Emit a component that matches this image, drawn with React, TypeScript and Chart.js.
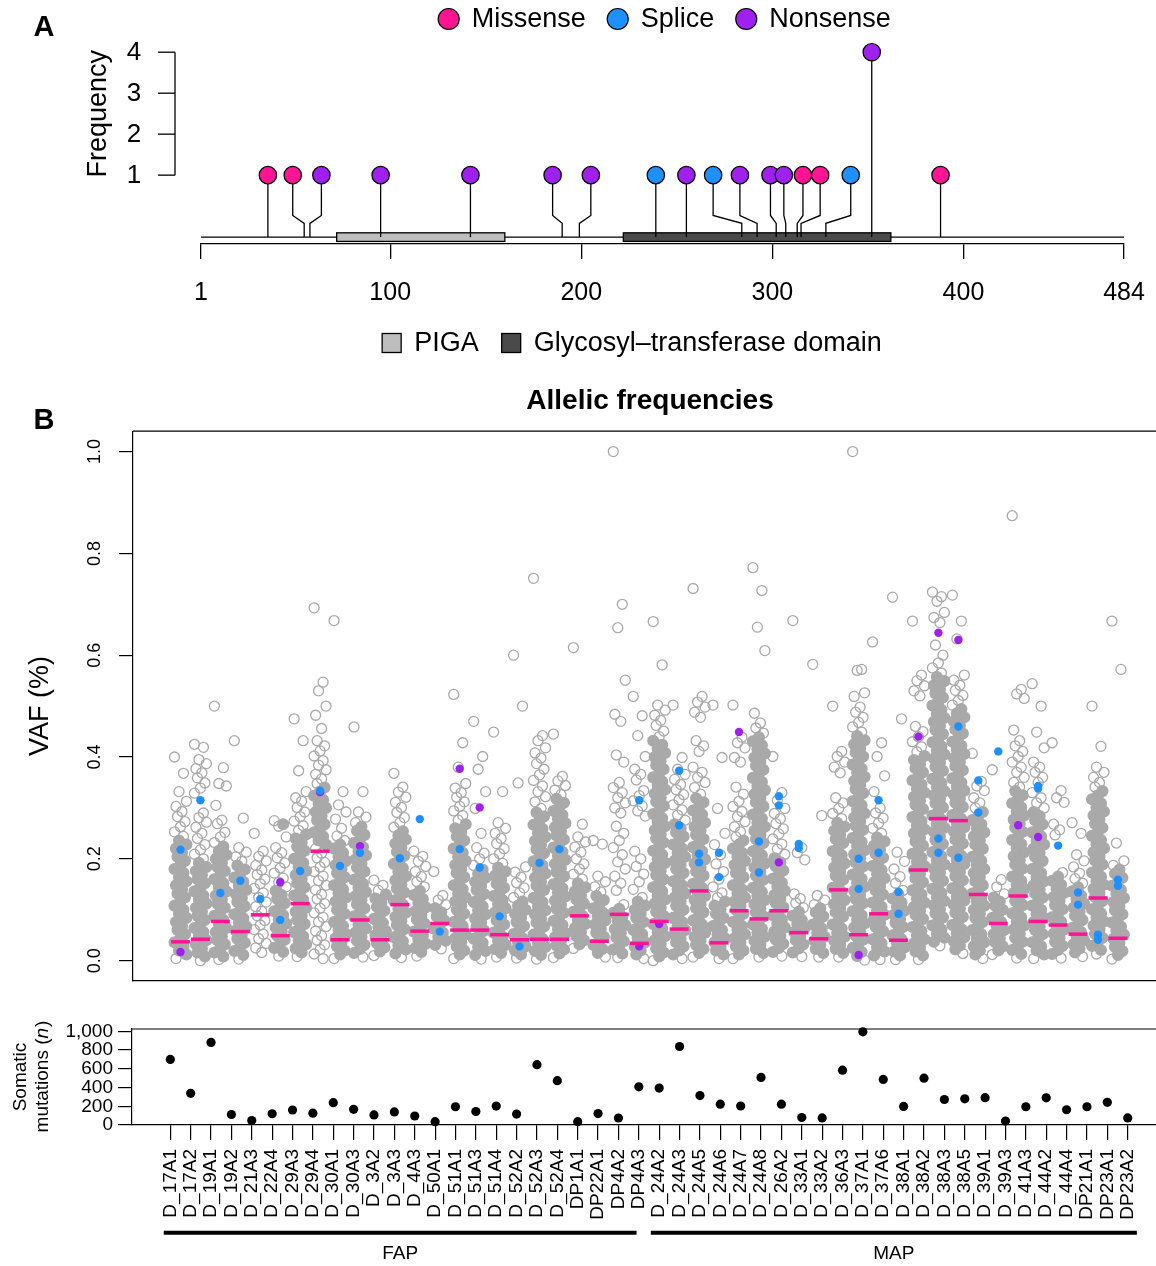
import React, { useEffect, useRef } from 'react';
import { Chart, registerables } from 'chart.js';

Chart.register(...registerables);

const FONT = "'Liberation Sans', Arial, Helvetica, sans-serif";
Chart.defaults.font.family = FONT;
Chart.defaults.color = '#000';

// ---------------- Panel A : lollipop plot ----------------
const proteinRange = [1, 484];
const axisTicksA = [1, 100, 200, 300, 400, 484];
const freqTicks = [1, 2, 3, 4];
const mutationTypes = ['Missense', 'Splice', 'Nonsense'];
const mutationColors = ['#FF1493', '#1E90FF', '#A020F0'];
// amino-acid position of each mutation
const mutationPositions = [36, 55, 58, 95, 142, 190, 199, 239, 255, 284, 292, 302, 307, 313, 315, 328, 352, 388];
// position of the lollipop head (repelled so heads do not overlap)
const mutationHeadPositions = [36, 49, 64, 95, 142, 185, 205, 239, 255, 269, 283, 299, 306, 316, 325, 341, 352, 388];
const mutationKinds = ['Missense', 'Missense', 'Nonsense', 'Nonsense', 'Nonsense', 'Nonsense', 'Nonsense', 'Splice', 'Nonsense', 'Splice', 'Nonsense', 'Nonsense', 'Nonsense', 'Missense', 'Missense', 'Splice', 'Nonsense', 'Missense'];
const mutationFrequencies = [1, 1, 1, 1, 1, 1, 1, 1, 1, 1, 1, 1, 1, 1, 1, 1, 4, 1];
const domainNames = ['PIGA', 'Glycosyl\u2013transferase domain'];
const domainStarts = [72, 222];
const domainEnds = [160, 362];
const domainColors = ['#BEBEBE', '#4A4A4A'];

// layout constants of panel A (in y-scale units)
const BACKBONE_Y = -0.512;
const STEM_LOW_Y = -0.176;
const STEM_HIGH_Y = 0.016;
const DOMAIN_HALF = 0.105;

// ---------------- Panel B / C : samples ----------------
const samples = ['D_17A1', 'D_17A2', 'D_19A1', 'D_19A2', 'D_21A3', 'D_22A4', 'D_29A3', 'D_29A4', 'D_30A1', 'D_30A3', 'D_3A2', 'D_3A3', 'D_4A3', 'D_50A1', 'D_51A1', 'D_51A3', 'D_51A4', 'D_52A2', 'D_52A3', 'D_52A4', 'DP1A1', 'DP22A1', 'DP4A2', 'DP4A3', 'D_24A2', 'D_24A3', 'D_24A5', 'D_24A6', 'D_24A7', 'D_24A8', 'D_26A2', 'D_33A1', 'D_33A2', 'D_36A3', 'D_37A1', 'D_37A6', 'D_38A1', 'D_38A2', 'D_38A3', 'D_38A5', 'D_39A1', 'D_39A3', 'D_41A3', 'D_44A2', 'D_44A4', 'DP21A1', 'DP23A1', 'DP23A2'];
const groupNames = ['FAP', 'MAP'];
const groupLineStart = [-0.32, 23.59];
const groupLineEnd = [22.89, 47.45];

const vafTicks = [0, 0.2, 0.4, 0.6, 0.8, 1.0];
// VAF of every somatic mutation, per sample, in permille (VAF x 1000)
const vafPermille: number[][] = [
  [400, 368, 332, 313, 303, 293, 283, 273, 263, 253, 244, 236, 228, 220, 212, 204, 196, 188, 180, 172, 164, 156, 148, 140, 132, 124, 116, 108, 100, 92, 84, 76, 68, 60, 52, 44, 36, 28, 20, 12, 4],
  [425, 419, 395, 387, 377, 369, 359, 349, 339, 329, 290, 281, 272, 262, 250, 240, 228, 218, 209, 200, 192, 184, 176, 168, 160, 152, 144, 136, 128, 120, 112, 104, 96, 88, 80, 72, 64, 56, 48, 40, 32, 24, 16, 8, 0],
  [500, 379, 348, 343, 305, 276, 269, 252, 243, 232, 224, 216, 208, 200, 192, 184, 176, 168, 160, 152, 144, 136, 128, 120, 112, 104, 96, 88, 80, 72, 64, 56, 48, 40, 32, 24, 16, 8, 2],
  [432, 280, 222, 213, 204, 195, 187, 179, 171, 163, 155, 147, 139, 131, 123, 115, 107, 99, 91, 83, 75, 67, 59, 51, 43, 35, 27, 19, 11, 3],
  [250, 215, 205, 196, 187, 178, 169, 160, 151, 142, 133, 124, 115, 106, 97, 88, 79, 70, 61, 52, 43, 34, 25, 16],
  [275, 268, 264, 243, 222, 212, 202, 192, 182, 172, 162, 154, 145, 137, 129, 121, 113, 105, 97, 89, 81, 73, 65, 57, 49, 41, 33, 25, 17, 9],
  [475, 432, 373, 332, 320, 313, 301, 292, 283, 274, 265, 256, 248, 240, 232, 224, 216, 208, 200, 192, 184, 176, 168, 160, 152, 144, 136, 128, 120, 112, 104, 96, 88, 80, 72, 64, 56, 48, 40, 32, 24, 16, 8],
  [693, 547, 530, 500, 482, 456, 432, 422, 412, 402, 393, 384, 375, 366, 357, 348, 340, 332, 324, 316, 308, 300, 292, 284, 276, 268, 260, 252, 244, 236, 228, 220, 211, 202, 193, 184, 175, 166, 157, 148, 139, 130, 121, 112, 103, 94, 85, 76, 67, 58, 49, 40, 31, 22, 13, 4],
  [668, 332, 306, 292, 278, 260, 245, 236, 228, 220, 212, 204, 196, 188, 180, 172, 164, 156, 148, 140, 132, 124, 116, 108, 100, 92, 84, 76, 68, 60, 52, 44, 36, 28, 20, 12, 4],
  [459, 332, 292, 282, 271, 263, 255, 247, 239, 231, 223, 215, 207, 199, 191, 183, 175, 167, 159, 151, 143, 135, 127, 119, 111, 103, 95, 87, 79, 71, 63, 55, 47, 39, 31, 23, 15, 7],
  [158, 148, 138, 130, 122, 114, 106, 98, 90, 82, 74, 66, 58, 50, 42, 34, 26, 18, 10],
  [368, 341, 331, 321, 311, 301, 291, 281, 271, 262, 254, 246, 238, 230, 222, 214, 206, 198, 190, 182, 174, 166, 158, 150, 142, 134, 126, 118, 110, 102, 94, 86, 78, 70, 62, 54, 46, 38, 30, 22, 14, 6],
  [215, 205, 195, 185, 175, 165, 155, 145, 137, 129, 121, 113, 105, 97, 89, 81, 73, 65, 57, 49, 41, 33, 25, 17, 9],
  [175, 128, 119, 110, 103, 95, 87, 79, 71, 63, 55, 47, 39, 31, 23],
  [523, 428, 380, 348, 339, 330, 321, 312, 303, 294, 285, 276, 268, 260, 252, 244, 236, 228, 220, 212, 204, 196, 188, 180, 172, 164, 156, 148, 140, 132, 124, 116, 108, 100, 92, 84, 76, 68, 60, 52, 44, 36, 28, 20, 12, 4],
  [470, 401, 376, 332, 299, 250, 222, 211, 200, 187, 179, 171, 163, 155, 147, 139, 131, 123, 115, 107, 99, 91, 83, 75, 67, 59, 51, 43, 35, 27, 19, 11, 3],
  [449, 332, 271, 260, 250, 240, 230, 220, 210, 200, 191, 183, 175, 167, 159, 151, 143, 135, 127, 119, 111, 103, 95, 87, 79, 71, 63, 55, 47, 39, 31, 23, 15, 7],
  [600, 500, 349, 184, 174, 164, 153, 143, 133, 124, 116, 108, 100, 92, 84, 76, 68, 60, 52, 44, 36, 28, 20, 12, 5],
  [751, 442, 432, 418, 408, 398, 387, 376, 365, 354, 343, 332, 322, 312, 299, 291, 283, 275, 267, 259, 251, 243, 235, 227, 219, 211, 203, 195, 187, 179, 171, 163, 155, 147, 139, 131, 123, 115, 107, 99, 91, 83, 75, 67, 59, 51, 43, 35, 27, 19, 11, 3],
  [445, 362, 353, 344, 335, 326, 318, 310, 302, 294, 286, 278, 270, 262, 254, 246, 238, 230, 222, 214, 206, 198, 190, 182, 174, 166, 158, 150, 142, 134, 126, 118, 110, 102, 94, 86, 78, 70, 62, 54, 46, 38, 30, 22, 14, 6],
  [615, 268, 243, 233, 223, 213, 200, 190, 180, 170, 160, 152, 144, 136, 128, 120, 112, 104, 96, 88, 80, 72, 64, 56, 48, 40, 32, 24],
  [236, 229, 166, 155, 145, 135, 127, 119, 111, 103, 95, 87, 79, 71, 63, 55, 47, 39, 31, 23, 15, 7],
  [1000, 700, 654, 551, 484, 470, 404, 390, 350, 340, 330, 320, 310, 300, 290, 264, 250, 236, 222, 208, 194, 180, 166, 152, 138, 110, 102, 94, 86, 78, 70, 62, 54, 46, 38, 30, 22, 14, 6],
  [519, 481, 442, 401, 376, 366, 355, 334, 324, 314, 304, 294, 284, 215, 200, 185, 170, 155, 140, 124, 116, 108, 100, 92, 84, 76, 68, 60, 52, 44, 36, 28, 20, 12, 4],
  [666, 581, 502, 492, 482, 472, 462, 451, 440, 432, 424, 416, 408, 400, 392, 384, 376, 368, 360, 352, 344, 336, 328, 320, 312, 304, 296, 288, 280, 272, 264, 256, 248, 240, 232, 224, 216, 208, 200, 192, 184, 176, 168, 160, 152, 144, 136, 128, 120, 112, 104, 96, 88, 80, 72, 64, 56, 48, 40, 32, 24, 16, 8, 0],
  [502, 399, 376, 366, 356, 346, 336, 326, 316, 306, 296, 286, 276, 268, 260, 252, 244, 236, 228, 220, 212, 204, 196, 188, 180, 172, 164, 156, 148, 140, 132, 124, 116, 108, 100, 92, 84, 76, 68, 60, 52, 44, 36, 28, 20, 12, 4],
  [731, 519, 508, 498, 488, 478, 432, 422, 411, 380, 370, 360, 350, 340, 327, 319, 311, 303, 295, 287, 279, 271, 263, 255, 247, 239, 231, 223, 215, 207, 199, 191, 183, 175, 167, 159, 151, 143, 135, 127, 119, 111, 103, 95, 87, 79, 71, 63, 55, 47, 39, 31, 23, 15, 7],
  [502, 399, 299, 250, 228, 208, 190, 175, 160, 145, 133, 124, 116, 108, 100, 92, 84, 76, 68, 60, 52, 44, 36, 28, 20, 12, 4],
  [502, 439, 428, 418, 399, 390, 341, 327, 313, 303, 293, 283, 273, 263, 253, 243, 236, 228, 220, 212, 204, 196, 188, 180, 172, 164, 156, 148, 140, 132, 124, 116, 108, 100, 92, 84, 76, 68, 60, 52, 44, 36, 28, 20, 12, 4],
  [772, 727, 655, 609, 486, 467, 457, 447, 439, 431, 423, 415, 407, 399, 391, 383, 375, 367, 359, 351, 343, 335, 327, 319, 311, 303, 295, 287, 279, 271, 263, 255, 247, 239, 231, 223, 215, 207, 199, 191, 183, 175, 167, 159, 151, 143, 135, 127, 119, 111, 103, 95, 87, 79, 71, 63, 55, 47, 39, 31, 23, 15, 7],
  [401, 330, 315, 299, 289, 279, 269, 259, 249, 239, 229, 219, 209, 201, 193, 185, 177, 169, 161, 153, 145, 137, 129, 121, 113, 105, 97, 89, 81, 73, 65, 57, 49, 41, 33, 25, 17, 9],
  [668, 222, 212, 198, 131, 122, 113, 104, 96, 88, 80, 72, 64, 56, 48, 40, 32, 24, 16, 8],
  [582, 285, 128, 119, 110, 103, 95, 87, 79, 71, 63, 55, 47, 39, 31, 23, 15, 7],
  [500, 411, 401, 390, 380, 369, 320, 310, 299, 289, 279, 271, 263, 255, 247, 239, 231, 223, 215, 207, 199, 191, 183, 175, 167, 159, 151, 143, 135, 127, 119, 111, 103, 95, 87, 79, 71, 63, 55, 47, 39, 31, 23, 15, 7],
  [1000, 572, 570, 526, 519, 498, 488, 478, 468, 459, 449, 441, 433, 425, 417, 409, 401, 393, 385, 377, 369, 361, 353, 345, 337, 329, 321, 313, 305, 297, 289, 281, 273, 265, 257, 249, 241, 233, 225, 217, 209, 201, 193, 185, 177, 169, 161, 153, 145, 137, 129, 121, 113, 105, 97, 89, 81, 73, 65, 57, 49, 41, 33, 25, 17, 9, 1],
  [626, 428, 401, 363, 332, 300, 290, 280, 270, 260, 250, 242, 234, 226, 218, 210, 202, 194, 186, 178, 170, 162, 154, 146, 138, 130, 122, 114, 106, 98, 90, 82, 74, 66, 58, 50, 42, 34, 26, 18, 10, 2],
  [714, 475, 213, 195, 180, 165, 152, 138, 130, 122, 114, 106, 98, 90, 82, 74, 66, 58, 50, 42, 34, 26, 18, 10, 2],
  [667, 561, 550, 540, 530, 520, 460, 450, 440, 430, 420, 410, 402, 394, 386, 378, 370, 362, 354, 346, 338, 330, 322, 314, 306, 298, 290, 282, 274, 266, 258, 250, 242, 234, 226, 218, 210, 202, 194, 186, 178, 170, 162, 154, 146, 138, 130, 122, 114, 106, 98, 90, 82, 74, 66, 58, 50, 42, 34, 26, 18, 10, 2],
  [724, 715, 706, 684, 674, 664, 620, 600, 585, 575, 565, 557, 549, 541, 533, 525, 517, 509, 501, 493, 485, 477, 469, 461, 453, 445, 437, 429, 421, 413, 405, 397, 389, 381, 373, 365, 357, 349, 341, 333, 325, 317, 309, 301, 293, 285, 277, 269, 261, 253, 245, 237, 229, 221, 213, 205, 197, 189, 181, 173, 165, 157, 149, 141, 133, 125, 117, 109, 101, 93, 85, 77, 69, 61, 53, 45, 37, 29],
  [718, 667, 632, 561, 551, 541, 531, 521, 511, 502, 494, 486, 478, 470, 462, 454, 446, 438, 430, 422, 414, 406, 398, 390, 382, 374, 366, 358, 350, 342, 334, 326, 318, 310, 302, 294, 286, 278, 270, 262, 254, 246, 238, 230, 222, 214, 206, 198, 190, 182, 174, 166, 158, 150, 142, 134, 126, 118, 110, 102, 94, 86, 78, 70, 62, 54, 46, 38, 30, 22, 14],
  [407, 352, 343, 334, 320, 310, 300, 292, 284, 276, 268, 260, 252, 244, 236, 228, 220, 212, 204, 196, 188, 180, 172, 164, 156, 148, 140, 132, 124, 116, 108, 100, 92, 84, 76, 68, 60, 52, 44, 36, 28, 20, 12, 4],
  [375, 159, 145, 131, 124, 116, 108, 100, 92, 84, 76, 68, 60, 52, 44, 36, 28, 20, 12],
  [874, 533, 524, 515, 453, 432, 422, 411, 401, 390, 380, 370, 360, 350, 341, 333, 325, 317, 309, 301, 293, 285, 277, 269, 261, 253, 245, 237, 229, 221, 213, 205, 197, 189, 181, 173, 165, 157, 149, 141, 133, 125, 117, 109, 101, 93, 85, 77, 69, 61, 53, 45, 37, 29, 21, 13, 5],
  [544, 500, 449, 418, 390, 380, 370, 360, 350, 330, 320, 310, 300, 292, 284, 276, 268, 260, 252, 244, 236, 228, 220, 212, 204, 196, 188, 180, 172, 164, 156, 148, 140, 132, 124, 116, 108, 100, 92, 84, 76, 68, 60, 52, 44, 36, 28, 20, 12, 4],
  [428, 334, 320, 311, 268, 257, 247, 173, 165, 157, 149, 141, 133, 125, 117, 109, 101, 93, 85, 77, 69, 61, 53, 45, 37, 29, 21, 13, 5],
  [271, 250, 208, 196, 184, 172, 161, 152, 144, 136, 128, 120, 112, 104, 96, 88, 80, 72, 64, 56, 48, 40, 32, 24, 16, 8],
  [500, 421, 380, 370, 360, 350, 341, 333, 325, 317, 309, 301, 293, 285, 277, 269, 261, 253, 245, 237, 229, 221, 213, 205, 197, 189, 181, 173, 165, 157, 149, 141, 133, 125, 117, 109, 101, 93, 85, 77, 69, 61, 53, 45, 37, 29, 21, 13],
  [667, 572, 231, 196, 187, 179, 171, 163, 155, 147, 139, 131, 123, 115, 107, 99, 91, 83, 75, 67, 59, 51, 43, 35, 27, 19, 11, 3],
];
const medianPermille = [37, 42, 77, 57, 90, 49, 112, 215, 41, 80, 41, 110, 58, 73, 60, 60, 51, 41, 42, 42, 88, 38, 91, 34, 77, 62, 137, 35, 98, 82, 98, 55, 43, 139, 51, 92, 40, 178, 279, 275, 130, 73, 127, 77, 70, 52, 123, 44];
const splicePermille: number[][] = [[218], [315], [133], [157], [121], [80], [176], [334], [186], [212], [], [201], [278], [57], [219], [183], [87], [28], [192], [219], [], [], [], [315], [], [373, 266], [210, 193], [212, 164], [], [234, 173], [323, 305], [229, 221], [], [], [200, 141], [315, 212], [135, 92], [], [240, 212], [460, 202], [354, 291], [411], [], [343, 338], [226], [134, 110], [51, 41], [159, 147]];
const nonsensePermille: number[][] = [[17], [], [], [], [], [154], [], [331], [], [225], [], [], [], [], [377], [301], [], [], [], [], [], [], [], [28], [72], [], [], [], [449], [], [193], [], [], [], [11], [], [], [440], [644], [630], [], [], [266], [243], [], [], [], []];

const somaticTicks = [0, 200, 400, 600, 800, 1000];
const somaticCounts = [700, 338, 882, 112, 48, 120, 160, 126, 238, 167, 108, 140, 96, 35, 195, 144, 202, 117, 644, 473, 36, 122, 75, 408, 394, 838, 314, 222, 203, 508, 222, 80, 76, 585, 995, 487, 198, 500, 272, 280, 292, 42, 195, 290, 163, 195, 242, 76];

// style
const GREY = '#A9A9A9';
const PINK = '#FF1493';
const BLUE = '#1E90FF';
const PURPLE = '#A020F0';
const JITTER = [-0.3, 0.15, -0.075, 0.3, -0.225, 0.075, -0.15, 0.225, 0];

function drawRotatedText(ctx: CanvasRenderingContext2D, text: string, x: number, y: number) {
  ctx.save();
  ctx.translate(x, y);
  ctx.rotate(-Math.PI / 2);
  ctx.textAlign = 'center';
  ctx.textBaseline = 'middle';
  ctx.fillText(text, 0, 0);
  ctx.restore();
}

export default function App() {
  const refA = useRef<HTMLCanvasElement>(null);
  const refB = useRef<HTMLCanvasElement>(null);
  const refC = useRef<HTMLCanvasElement>(null);

  useEffect(() => {
    const charts: Chart[] = [];

    // ---------------- Panel A ----------------
    const stemSets = mutationPositions.map((pos, i) => ({
      label: 'stem' + i,
      data: [
        { x: pos, y: BACKBONE_Y },
        { x: pos, y: STEM_LOW_Y },
        { x: mutationHeadPositions[i], y: STEM_HIGH_Y },
        { x: mutationHeadPositions[i], y: mutationFrequencies[i] },
      ],
      showLine: true,
      pointRadius: 0,
      borderColor: '#000',
      borderWidth: 1.3,
      order: 2,
    }));
    const headSets = mutationTypes.map((t, k) => ({
      label: t,
      data: mutationKinds
        .map((kind, i) => (kind === t ? { x: mutationHeadPositions[i], y: mutationFrequencies[i] } : null))
        .filter((p) => p !== null),
      pointRadius: 8.7,
      backgroundColor: mutationColors[k],
      borderColor: '#000',
      borderWidth: 1.2,
      order: 0,
    }));

    const panelAPlugin = {
      id: 'panelA',
      beforeDatasetsDraw(chart: any) {
        const { ctx } = chart;
        const x = chart.scales.x;
        const y = chart.scales.y;
        ctx.save();
        ctx.strokeStyle = '#000';
        ctx.lineWidth = 1.3;
        const by = y.getPixelForValue(BACKBONE_Y);
        ctx.beginPath();
        ctx.moveTo(x.getPixelForValue(proteinRange[0]), by);
        ctx.lineTo(x.getPixelForValue(proteinRange[1]), by);
        ctx.stroke();
        domainStarts.forEach((s, i) => {
          const x0 = x.getPixelForValue(s);
          const x1 = x.getPixelForValue(domainEnds[i]);
          const y0 = y.getPixelForValue(BACKBONE_Y + DOMAIN_HALF);
          const y1 = y.getPixelForValue(BACKBONE_Y - DOMAIN_HALF);
          ctx.fillStyle = domainColors[i];
          ctx.fillRect(x0, y0, x1 - x0, y1 - y0);
          ctx.strokeRect(x0, y0, x1 - x0, y1 - y0);
        });
        ctx.restore();
      },
      afterDraw(chart: any) {
        const { ctx } = chart;
        const y = chart.scales.y;
        const area = chart.chartArea;
        ctx.save();
        ctx.strokeStyle = '#000';
        ctx.fillStyle = '#000';
        ctx.lineWidth = 1.3;
        // frequency axis
        const axisX = 175;
        ctx.beginPath();
        ctx.moveTo(axisX, y.getPixelForValue(freqTicks[0]));
        ctx.lineTo(axisX, y.getPixelForValue(freqTicks[freqTicks.length - 1]));
        ctx.stroke();
        ctx.font = `26px ${FONT}`;
        ctx.textAlign = 'center';
        ctx.textBaseline = 'middle';
        freqTicks.forEach((v) => {
          const py = y.getPixelForValue(v);
          ctx.beginPath();
          ctx.moveTo(158, py);
          ctx.lineTo(axisX, py);
          ctx.stroke();
          ctx.fillText(String(v), 134, py + 1);
        });
        ctx.font = `27px ${FONT}`;
        drawRotatedText(ctx, 'Frequency', 99, (y.getPixelForValue(1) + y.getPixelForValue(4)) / 2);

        // panel letter
        ctx.font = `bold 29px ${FONT}`;
        ctx.textAlign = 'center';
        ctx.fillText('A', 44, 28);

        // mutation type legend
        ctx.font = `27px ${FONT}`;
        const r = 10.5;
        const gapText = 12.5;
        const gapItem = 21.5;
        const widths = mutationTypes.map((t) => ctx.measureText(t).width);
        const total = widths.reduce((a, w) => a + 2 * r + gapText + w, 0) + gapItem * (mutationTypes.length - 1);
        let cx = (area.left + area.right) / 2 + 2 - total / 2;
        const ly = 19;
        mutationTypes.forEach((t, i) => {
          ctx.beginPath();
          ctx.arc(cx + r, ly, r, 0, Math.PI * 2);
          ctx.fillStyle = mutationColors[i];
          ctx.fill();
          ctx.lineWidth = 1.2;
          ctx.stroke();
          ctx.fillStyle = '#000';
          ctx.textAlign = 'left';
          ctx.fillText(t, cx + 2 * r + gapText, ly + 1);
          cx += 2 * r + gapText + widths[i] + gapItem;
        });

        // domain legend
        const sq = 19;
        const gapSq = 13;
        const gapDom = 23;
        const dw = domainNames.map((t) => ctx.measureText(t).width);
        const dTotal = dw.reduce((a, w) => a + sq + gapSq + w, 0) + gapDom * (domainNames.length - 1);
        let dx = 632 - dTotal / 2;
        const dy = 343;
        domainNames.forEach((t, i) => {
          ctx.fillStyle = domainColors[i];
          ctx.fillRect(dx, dy - sq / 2, sq, sq);
          ctx.lineWidth = 1.3;
          ctx.strokeRect(dx, dy - sq / 2, sq, sq);
          ctx.fillStyle = '#000';
          ctx.textAlign = 'left';
          ctx.fillText(t, dx + sq + gapSq, dy + 1);
          dx += sq + gapSq + dw[i] + gapDom;
        });
        ctx.restore();
      },
    };

    if (refA.current) {
      charts.push(
        new Chart(refA.current, {
          type: 'scatter',
          data: { datasets: [...headSets, ...stemSets] as any },
          options: {
            responsive: false,
            animation: false,
            events: [],
            layout: { padding: { left: 201, right: 32, top: 6, bottom: 0 } },
            plugins: { legend: { display: false }, tooltip: { enabled: false } },
            scales: {
              x: {
                type: 'linear',
                min: proteinRange[0],
                max: proteinRange[1],
                afterBuildTicks: (s: any) => {
                  s.ticks = axisTicksA.map((v) => ({ value: v }));
                },
                afterFit: (s: any) => {
                  s.height = 121;
                  s.paddingLeft = 0;
                  s.paddingRight = 0;
                },
                ticks: { autoSkip: false, maxRotation: 0, font: { size: 25, family: FONT }, color: '#000', padding: 19 },
                grid: { drawOnChartArea: false, drawTicks: true, tickLength: 15, color: '#000', lineWidth: 1.3 },
                border: { display: true, color: '#000', width: 1.3 },
              },
              y: { display: false, min: -0.68, max: 5.032 },
            },
          },
          plugins: [panelAPlugin],
        } as any)
      );
    }

    // ---------------- Panel B ----------------
    const greyPoints: { x: number; y: number }[] = [];
    const greyFill: string[] = [];
    const greyRadius: number[] = [];
    vafPermille.forEach((vals, i) => {
      vals.forEach((v, j) => {
        const near = vals.filter((w) => Math.abs(w - v) <= 8).length - 1;
        const dense = near >= 2;
        greyPoints.push({ x: i + JITTER[j % JITTER.length], y: v / 1000 });
        greyFill.push(dense ? GREY : 'rgba(0,0,0,0)');
        greyRadius.push(dense ? 5.4 : 5);
      });
    });
    const medianPoints = medianPermille.map((m, i) => ({ x: i, y: m / 1000 }));
    const splicePoints = splicePermille.flatMap((vs, i) => vs.map((v) => ({ x: i, y: v / 1000 })));
    const nonsensePoints = nonsensePermille.flatMap((vs, i) => vs.map((v) => ({ x: i, y: v / 1000 })));

    const panelBPlugin = {
      id: 'panelB',
      afterDraw(chart: any) {
        const { ctx, chartArea } = chart;
        const y = chart.scales.y;
        ctx.save();
        ctx.strokeStyle = '#000';
        ctx.lineWidth = 1.2;
        ctx.beginPath();
        ctx.moveTo(chartArea.left, chartArea.top);
        ctx.lineTo(chartArea.right, chartArea.top);
        ctx.stroke();
        ctx.fillStyle = '#000';
        ctx.font = `18px ${FONT}`;
        vafTicks.forEach((v) => drawRotatedText(ctx, v.toFixed(1), 95, y.getPixelForValue(v)));
        ctx.font = `bold 29px ${FONT}`;
        ctx.textAlign = 'center';
        ctx.textBaseline = 'middle';
        ctx.fillText('B', 44, 51);
        ctx.restore();
      },
    };

    if (refB.current) {
      charts.push(
        new Chart(refB.current, {
          type: 'scatter',
          data: {
            datasets: [
              { label: 'Median', data: medianPoints, pointStyle: 'line', pointRadius: 9.5, borderColor: PINK, borderWidth: 3.5, order: 0, clip: false },
              { label: 'Splice', data: splicePoints, pointRadius: 4.2, backgroundColor: BLUE, borderWidth: 0, order: 1, clip: false },
              { label: 'Nonsense', data: nonsensePoints, pointRadius: 4.2, backgroundColor: PURPLE, borderWidth: 0, order: 1, clip: false },
              { label: 'VAF', data: greyPoints, pointRadius: greyRadius, borderColor: GREY, borderWidth: 1.3, pointBackgroundColor: greyFill, backgroundColor: greyFill, order: 3, clip: false },
            ] as any,
          },
          options: {
            responsive: false,
            animation: false,
            events: [],
            layout: { padding: { left: 0, right: 9, top: 0, bottom: 0 } },
            plugins: {
              legend: { display: false },
              tooltip: { enabled: false },
              title: {
                display: true,
                text: 'Allelic frequencies',
                fullSize: false,
                color: '#000',
                font: { family: FONT, size: 28, weight: 'bold' },
                padding: { top: 14.8, bottom: 12.8 },
              },
            },
            scales: {
              x: {
                type: 'linear',
                min: -2.38,
                max: 49.46,
                ticks: { display: false },
                grid: { display: false },
                border: { display: true, color: '#000', width: 1.2 },
                afterFit: (s: any) => {
                  s.height = 14;
                },
              },
              y: {
                min: -0.04,
                max: 1.04,
                afterBuildTicks: (s: any) => {
                  s.ticks = vafTicks.map((v) => ({ value: v }));
                },
                afterFit: (s: any) => {
                  s.width = 133;
                },
                ticks: { display: false },
                grid: { drawOnChartArea: false, drawTicks: true, tickLength: 14, color: '#000', lineWidth: 1.2 },
                border: { display: true, color: '#000', width: 1.2 },
                title: { display: true, text: 'VAF (%)', color: '#000', font: { family: FONT, size: 27 }, padding: { top: 24, bottom: 0 } },
              },
            },
          },
          plugins: [panelBPlugin],
        } as any)
      );
    }

    // ---------------- Panel C ----------------
    const countPoints = somaticCounts.map((c, i) => ({ x: i, y: c }));
    const panelCPlugin = {
      id: 'panelC',
      afterDraw(chart: any) {
        const { ctx, chartArea } = chart;
        const x = chart.scales.x;
        ctx.save();
        ctx.strokeStyle = '#000';
        ctx.fillStyle = '#000';
        ctx.lineWidth = 1.2;
        ctx.beginPath();
        ctx.moveTo(chartArea.left, chartArea.top);
        ctx.lineTo(chartArea.right, chartArea.top);
        ctx.stroke();
        // axis title (two lines, italic n)
        const midY = (chartArea.top + chartArea.bottom) / 2;
        ctx.font = `19px ${FONT}`;
        drawRotatedText(ctx, 'Somatic', 21, midY);
        ctx.save();
        ctx.translate(43, midY);
        ctx.rotate(-Math.PI / 2);
        ctx.textBaseline = 'middle';
        ctx.textAlign = 'left';
        const p1 = 'mutations (';
        const p3 = ')';
        ctx.font = `19px ${FONT}`;
        const w1 = ctx.measureText(p1).width;
        const w3 = ctx.measureText(p3).width;
        ctx.font = `italic 19px ${FONT}`;
        const w2 = ctx.measureText('n').width;
        let sx = -(w1 + w2 + w3) / 2;
        ctx.font = `19px ${FONT}`;
        ctx.fillText(p1, sx, 0);
        sx += w1;
        ctx.font = `italic 19px ${FONT}`;
        ctx.fillText('n', sx, 0);
        sx += w2 + 1;
        ctx.font = `19px ${FONT}`;
        ctx.fillText(p3, sx, 0);
        ctx.restore();
        // group bars
        ctx.lineWidth = 4;
        ctx.font = `19px ${FONT}`;
        ctx.textAlign = 'center';
        ctx.textBaseline = 'middle';
        groupNames.forEach((g, i) => {
          const x0 = x.getPixelForValue(groupLineStart[i]);
          const x1 = x.getPixelForValue(groupLineEnd[i]);
          ctx.beginPath();
          ctx.moveTo(x0, 222.7);
          ctx.lineTo(x1, 222.7);
          ctx.stroke();
          ctx.fillText(g, (x0 + x1) / 2, 244);
        });
        ctx.restore();
      },
    };

    if (refC.current) {
      charts.push(
        new Chart(refC.current, {
          type: 'scatter',
          data: {
            datasets: [{ label: 'Somatic mutations', data: countPoints, pointRadius: 4.6, backgroundColor: '#000', borderWidth: 0, clip: false }] as any,
          },
          options: {
            responsive: false,
            animation: false,
            events: [],
            layout: { padding: { left: 0, right: 14, top: 19, bottom: 0 } },
            plugins: { legend: { display: false }, tooltip: { enabled: false } },
            scales: {
              x: {
                type: 'linear',
                min: -1.88,
                max: 48.88,
                afterBuildTicks: (s: any) => {
                  s.ticks = samples.map((_, i) => ({ value: i }));
                },
                afterFit: (s: any) => {
                  s.height = 141;
                  s.paddingLeft = 0;
                  s.paddingRight = 0;
                },
                ticks: {
                  autoSkip: false,
                  minRotation: 90,
                  maxRotation: 90,
                  padding: 9,
                  color: '#000',
                  font: { family: FONT, size: 19 },
                  callback: (v: any) => samples[v as number],
                },
                grid: { drawOnChartArea: false, drawTicks: true, tickLength: 15, color: '#000', lineWidth: 1.2 },
                border: { display: true, color: '#000', width: 1.2 },
              },
              y: {
                min: 0,
                max: 1025,
                afterBuildTicks: (s: any) => {
                  s.ticks = somaticTicks.map((v) => ({ value: v }));
                },
                afterFit: (s: any) => {
                  s.width = 132;
                  s.paddingTop = 0;
                  s.paddingBottom = 0;
                },
                ticks: {
                  autoSkip: false,
                  padding: 5,
                  color: '#000',
                  font: { family: FONT, size: 19 },
                  callback: (v: any) => Number(v).toLocaleString('en-US'),
                },
                grid: { drawOnChartArea: false, drawTicks: true, tickLength: 14, color: '#000', lineWidth: 1.2 },
                border: { display: true, color: '#000', width: 1.2 },
              },
            },
          },
          plugins: [panelCPlugin],
        } as any)
      );
    }

    return () => {
      charts.forEach((c) => c.destroy());
    };
  }, []);

  return (
    <div style={{ position: 'absolute', left: 0, top: 0, width: 1156, height: 1266, overflow: 'hidden', background: '#fff' }}>
      <canvas ref={refA} width={1156} height={365} style={{ position: 'absolute', left: 0, top: 0 }} />
      <canvas ref={refB} width={1180} height={625} style={{ position: 'absolute', left: 0, top: 370 }} />
      <canvas ref={refC} width={1180} height={256} style={{ position: 'absolute', left: 0, top: 1010 }} />
    </div>
  );
}
